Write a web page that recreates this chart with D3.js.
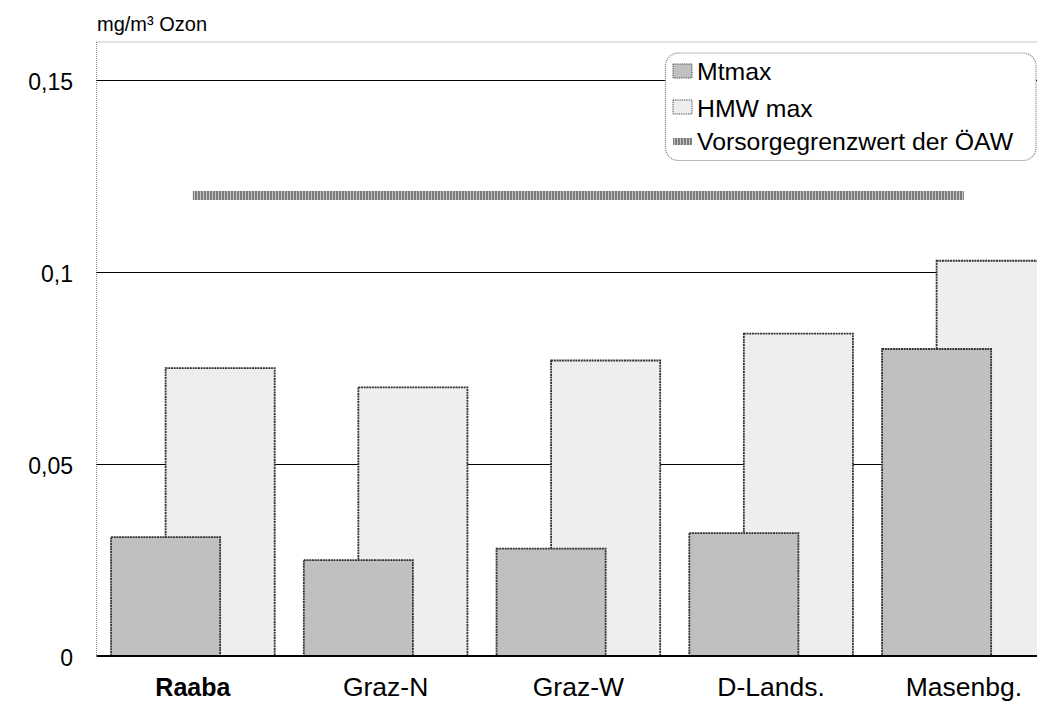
<!DOCTYPE html>
<html>
<head>
<meta charset="utf-8">
<script src="https://cdn.jsdelivr.net/npm/d3@7"></script>
<style>
  html, body { margin: 0; padding: 0; background: #fff; }
  svg { display: block; }
  text { font-family: "Liberation Sans", Arial, sans-serif; fill: #000; }
</style>
</head>
<body>
<svg id="chart" width="1037" height="703"></svg>
<script>
// Ozone measurements per station (mg/m³)
const stations = ["Raaba", "Graz-N", "Graz-W", "D-Lands.", "Masenbg."];
const mtmax = [0.031, 0.025, 0.028, 0.032, 0.080];
const hmwMax = [0.075, 0.070, 0.077, 0.084, 0.103];
const limitValue = 0.12;
const yTicks = [0, 0.05, 0.1, 0.15];
const yTickLabels = ["0", "0,05", "0,1", "0,15"];
const seriesNames = ["Mtmax", "HMW max", "Vorsorgegrenzwert der ÖAW"];

const svg = d3.select("#chart");
const plot = { left: 96.5, top: 42, bottom: 656, band: 192.75 };

const x = d3.scaleBand()
  .domain(stations)
  .range([plot.left, plot.left + plot.band * stations.length])
  .padding(0);
const y = d3.scaleLinear().domain([0, 0.16]).range([plot.bottom, plot.top]);

// stripe pattern for the limit line
const defs = svg.append("defs");
const pat = defs.append("pattern")
  .attr("id", "stripes").attr("patternUnits", "userSpaceOnUse")
  .attr("width", 3).attr("height", 10);
pat.append("rect").attr("width", 3).attr("height", 10).attr("fill", "#c4c4c4");
pat.append("rect").attr("width", 2).attr("height", 10).attr("fill", "#7c7c7c");

// plot area frame (top and left, dotted)
svg.append("line")
  .attr("x1", plot.left).attr("x2", 1037).attr("y1", plot.top).attr("y2", plot.top)
  .attr("stroke", "#8a8a8a").attr("stroke-width", 1).attr("stroke-dasharray", "1,1");
svg.append("line")
  .attr("x1", plot.left).attr("x2", plot.left).attr("y1", plot.top).attr("y2", plot.bottom)
  .attr("stroke", "#8a8a8a").attr("stroke-width", 1).attr("stroke-dasharray", "1,1");

// gridlines
svg.append("g").selectAll("line")
  .data(yTicks.filter(d => d > 0))
  .join("line")
  .attr("x1", plot.left).attr("x2", 1037)
  .attr("y1", d => Math.round(y(d)) + 0.5).attr("y2", d => Math.round(y(d)) + 0.5)
  .attr("stroke", "#000").attr("stroke-width", 1.2);

// y axis labels
svg.append("g").selectAll("text")
  .data(yTicks)
  .join("text")
  .attr("x", 73)
  .attr("y", d => y(d) + 10)
  .attr("text-anchor", "end")
  .attr("font-size", 23)
  .text((d, i) => yTickLabels[i]);

// unit label
svg.append("text")
  .attr("x", 97).attr("y", 31)
  .attr("font-size", 20)
  .text("mg/m³ Ozon");

const bw = x.bandwidth();
const barW = bw * 0.566;
const center = d => x(d) + bw / 2;

const barStroke = sel => sel
  .attr("stroke", "#333").attr("stroke-width", 1.8).attr("stroke-dasharray", "2,0.7");

// HMW max bars (behind)
svg.append("g").selectAll("rect")
  .data(stations)
  .join("rect")
  .attr("x", d => center(d) - barW * 0.25)
  .attr("y", (d, i) => y(hmwMax[i]))
  .attr("width", barW)
  .attr("height", (d, i) => y(0) - y(hmwMax[i]))
  .attr("fill", "#eeeeee")
  .call(barStroke);

// Mtmax bars (front)
svg.append("g").selectAll("rect")
  .data(stations)
  .join("rect")
  .attr("x", d => center(d) - barW * 0.75)
  .attr("y", (d, i) => y(mtmax[i]))
  .attr("width", barW)
  .attr("height", (d, i) => y(0) - y(mtmax[i]))
  .attr("fill", "#c0c0c0")
  .call(barStroke);

// precautionary limit line
svg.append("rect")
  .attr("x", center(stations[0]))
  .attr("y", y(limitValue) - 4.5)
  .attr("width", center(stations[stations.length - 1]) - center(stations[0]))
  .attr("height", 9)
  .attr("fill", "url(#stripes)");

// category axis baseline
svg.append("line")
  .attr("x1", plot.left).attr("x2", 1037)
  .attr("y1", y(0)).attr("y2", y(0))
  .attr("stroke", "#000").attr("stroke-width", 2);

// category labels
svg.append("g").selectAll("text")
  .data(stations)
  .join("text")
  .attr("x", d => center(d))
  .attr("y", 696)
  .attr("text-anchor", "middle")
  .attr("font-size", (d, i) => i === 0 ? 25 : 26.5)
  .attr("font-weight", (d, i) => i === 0 ? "bold" : "normal")
  .text(d => d);

// legend
const lg = svg.append("g");
lg.append("rect")
  .attr("x", 665.5).attr("y", 53).attr("width", 370.5).attr("height", 107.5)
  .attr("rx", 13).attr("ry", 13)
  .attr("fill", "#fff")
  .attr("stroke", "#7a7a7a").attr("stroke-width", 1.2).attr("stroke-dasharray", "1,1");

const legendRows = [
  { name: seriesNames[0], base: 80, swatch: { y: 64, h: 14, fill: "#c0c0c0" } },
  { name: seriesNames[1], base: 116.5, swatch: { y: 100, h: 14, fill: "#eeeeee" } },
  { name: seriesNames[2], base: 150, swatch: { y: 138, h: 7, fill: "url(#stripes)" } }
];
legendRows.forEach((r, i) => {
  lg.append("rect")
    .attr("x", 673).attr("y", r.swatch.y).attr("width", 19).attr("height", r.swatch.h)
    .attr("fill", r.swatch.fill)
    .attr("stroke", i < 2 ? "#444" : "none").attr("stroke-width", 1).attr("stroke-dasharray", "1,0.8");
  lg.append("text")
    .attr("x", 697).attr("y", r.base)
    .attr("font-size", 24.8)
    .text(r.name);
});
</script>
</body>
</html>
